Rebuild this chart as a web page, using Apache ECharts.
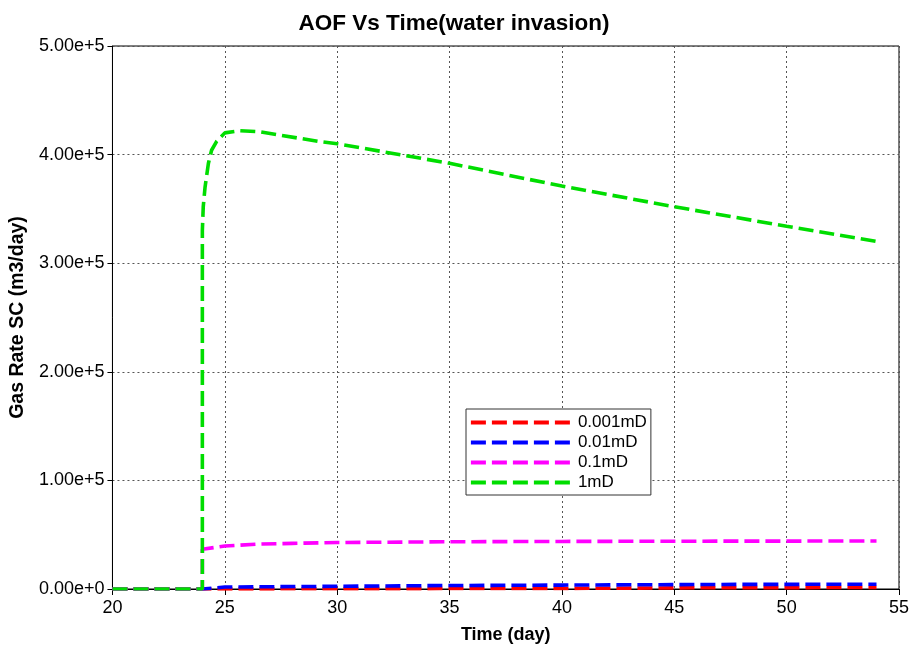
<!DOCTYPE html>
<html><head><meta charset="utf-8">
<script src="https://cdn.jsdelivr.net/npm/echarts@6/dist/echarts.min.js"></script>
<style>html,body{margin:0;padding:0;background:#fff}#c{width:912px;height:652px}</style>
</head><body><div id="c"></div>
<script>
const seriesNames = ['0.001mD', '0.01mD', '0.1mD', '1mD'];
const redX = [20, 24, 24, 30, 35, 40, 47, 54];
const redY = [0, 0, 200, 300, 400, 500, 1200, 1400];
const blueX = [20, 24, 24, 25, 30, 35, 40, 47, 54];
const blueY = [0, 0, 1500, 1800, 2500, 3200, 3600, 4200, 4400];
const magX = [20, 24, 24, 25, 26.5, 28, 30, 35, 40, 45, 54];
const magY = [0, 0, 36600, 39600, 41400, 42000, 42800, 43500, 43800, 44000, 44200];
const greenX = [20, 24, 24, 24.04, 24.12, 24.27, 24.41, 24.63, 25.0, 25.67, 26.56, 27.44, 29.21, 30, 35, 40, 45, 50, 54];
const greenY = [0, 0, 330000, 352000, 370000, 392000, 404000, 412000, 420000, 422000, 421000, 418000, 412000, 410000, 392000, 371000, 352000, 334000, 320000];
const colors = ['#ff0000', '#0000ff', '#ff00ff', '#00dd00'];
const xs = [redX, blueX, magX, greenX], ys = [redY, blueY, magY, greenY];

const chart = echarts.init(document.getElementById('c'));
const font = 'Liberation Sans, Arial, sans-serif';
chart.setOption({
  animation: false,
  backgroundColor: '#fff',
  title: { text: 'AOF Vs Time(water invasion)', left: 449, textAlign: 'center', top: 7,
    textStyle: { fontFamily: font, fontSize: 22.5, fontWeight: 'bold', color: '#000' } },
  grid: { left: 112, right: 9, top: 46, bottom: 63, show: true, borderColor: '#000', borderWidth: 1 },
  legend: {
    orient: 'vertical', left: 466, top: 409, itemWidth: 102, itemHeight: 16, itemGap: 3,
    backgroundColor: '#fff', borderColor: '#333', borderWidth: 1, padding: [5, 4, 4, 3],
    itemStyle: { opacity: 0 },
    lineStyle: { width: 3.8 },
    textStyle: { fontFamily: font, fontSize: 17, color: '#000' },
    data: seriesNames
  },
  xAxis: {
    type: 'value', min: 20, max: 55, interval: 5,
    name: 'Time (day)', nameLocation: 'middle', nameGap: 37,
    nameTextStyle: { fontFamily: font, fontSize: 18, fontWeight: 'bold', color: '#000' },
    axisLine: { lineStyle: { color: '#000', width: 1 } },
    axisTick: { show: true, length: 6, lineStyle: { color: '#000' } },
    axisLabel: { fontFamily: font, fontSize: 18, color: '#000', margin: 10 },
    splitLine: { show: true, lineStyle: { color: '#555', type: [2, 3], width: 1 } }
  },
  yAxis: {
    type: 'value', min: 0, max: 500000, interval: 100000,
    name: 'Gas Rate SC (m3/day)', nameLocation: 'middle', nameGap: 81,
    nameTextStyle: { fontFamily: font, fontSize: 19.5, fontWeight: 'bold', color: '#000' },
    axisLine: { show: true, lineStyle: { color: '#000', width: 1 } },
    axisTick: { show: true, length: 5, lineStyle: { color: '#000' } },
    axisLabel: { fontFamily: font, fontSize: 18, color: '#000', margin: 8,
      formatter: v => v === 0 ? '0.00e+0' : (v / 1e5).toFixed(2) + 'e+5' },
    splitLine: { show: true, lineStyle: { color: '#555', type: [2, 3], width: 1 } }
  },
  series: seriesNames.map((n, i) => ({
    name: n, type: 'line', showSymbol: false, symbol: 'none', smooth: false,
    color: colors[i],
    lineStyle: { color: colors[i], width: 3.6, type: [15, 6] },
    data: xs[i].map((x, j) => [x, ys[i][j]])
  }))
});
</script></body></html>
